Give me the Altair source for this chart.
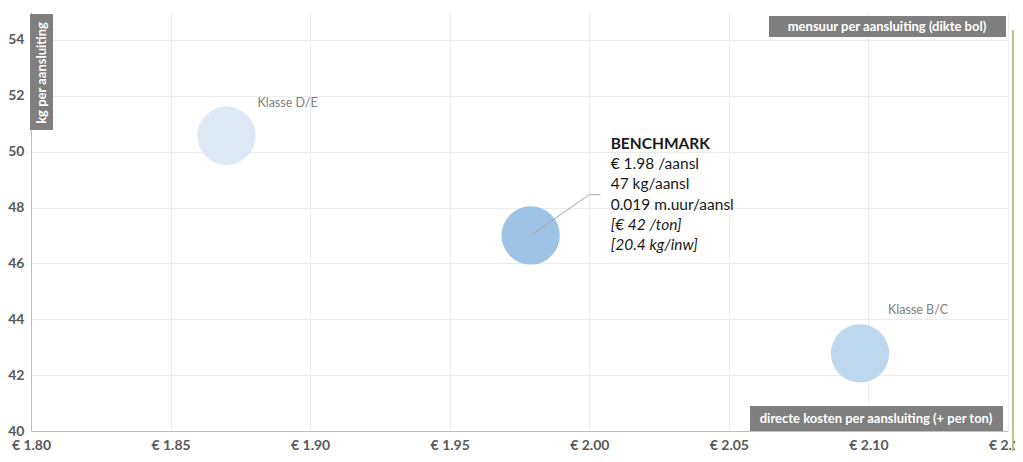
import altair as alt
import pandas as pd

# ---- data ----
names = ["Klasse D/E", "BENCHMARK", "Klasse B/C"]
cost = [1.870, 1.979, 2.097]          # € per aansluiting
kg = [50.57, 47.0, 42.78]             # kg per aansluiting
colors = ["#dde9f5", "#9dc3e6", "#bdd7ee"]

bench_lines = ["BENCHMARK", "€ 1.98 /aansl", "47 kg/aansl",
               "0.019 m.uur/aansl", "[€ 42 /ton]", "[20.4 kg/inw]"]

leader_x = [1.979, 2.000, 2.004]
leader_y = [47.0, 48.46, 48.46]

x_ticks = [1.80, 1.85, 1.90, 1.95, 2.00, 2.05, 2.10, 2.15]
y_ticks = [40, 42, 44, 46, 48, 50, 52, 54]

FONT = "Lato"

df = pd.DataFrame({"name": names, "cost": cost, "kg": kg})
lead = pd.DataFrame({"x": leader_x, "y": leader_y, "o": list(range(len(leader_x)))})
one = pd.DataFrame({"a": [0]})

xs = alt.Scale(domain=[1.80, 2.15], nice=False, zero=False)
ys = alt.Scale(domain=[40, 55], nice=False, zero=False)

xaxis = alt.Axis(values=x_ticks, labelExpr="'€ ' + format(datum.value, '.2f')",
                 title=None, tickSize=0, labelPadding=7, labelFont=FONT,
                 labelFontSize=14, labelFontWeight="bold", labelColor="#595959",
                 domainColor="#bfbfbf", gridColor="#ececec", labelFlush=False,
                 labelOverlap=False)
yaxis = alt.Axis(values=y_ticks, title=None, tickSize=0, labelPadding=7,
                 labelFont=FONT, labelFontSize=14, labelFontWeight="bold",
                 labelColor="#595959", domainColor="#bfbfbf", gridColor="#ececec")

bubbles = alt.Chart(df).mark_circle(opacity=1, size=3400).encode(
    x=alt.X("cost:Q", scale=xs, axis=xaxis),
    y=alt.Y("kg:Q", scale=ys, axis=yaxis),
    color=alt.Color("name:N", scale=alt.Scale(domain=names, range=colors), legend=None),
)

leader = alt.Chart(lead).mark_line(color="#a6a6a6", strokeWidth=1).encode(
    x=alt.X("x:Q", scale=xs), y=alt.Y("y:Q", scale=ys), order="o:Q")

lab_de = alt.Chart(df[df.name == "Klasse D/E"]).mark_text(
    align="left", baseline="middle", dx=31, dy=-33, font=FONT, fontSize=12.5,
    color="#808080").encode(x=alt.X("cost:Q", scale=xs), y=alt.Y("kg:Q", scale=ys), text="name:N")
lab_bc = alt.Chart(df[df.name == "Klasse B/C"]).mark_text(
    align="left", baseline="middle", dx=28, dy=-43, font=FONT, fontSize=12.5,
    color="#808080").encode(x=alt.X("cost:Q", scale=xs), y=alt.Y("kg:Q", scale=ys), text="name:N")

bdf = df[df.name == "BENCHMARK"]
dys = [-91, -71, -51, -30, -10, 10]
bench_text = []
for i, line in enumerate(bench_lines):
    kw = {}
    if i == 0:
        kw["fontWeight"] = "bold"
    if i >= 4:
        kw["fontStyle"] = "italic"
    bench_text.append(
        alt.Chart(bdf).mark_text(align="left", baseline="middle", dx=80, dy=dys[i],
                                 font=FONT, fontSize=15.5, color="#1a1a1a", **kw)
        .encode(x=alt.X("cost:Q", scale=xs), y=alt.Y("kg:Q", scale=ys), text=alt.value(line)))

# decorative label boxes
box_top = alt.Chart(one).mark_rect(color="#7f7f7f").encode(
    x=alt.value(738), x2=alt.value(975), y=alt.value(4), y2=alt.value(25))
txt_top = alt.Chart(one).mark_text(color="white", font=FONT, fontSize=13, fontWeight="bold",
                                   align="center", baseline="middle").encode(
    x=alt.value(856), y=alt.value(15), text=alt.value("mensuur per aansluiting  (dikte  bol)"))
box_bot = alt.Chart(one).mark_rect(color="#7f7f7f").encode(
    x=alt.value(719), x2=alt.value(972), y=alt.value(394), y2=alt.value(419))
txt_bot = alt.Chart(one).mark_text(color="white", font=FONT, fontSize=13, fontWeight="bold",
                                   align="center", baseline="middle").encode(
    x=alt.value(845), y=alt.value(407), text=alt.value("directe kosten per aansluiting (+ per ton)"))
box_y = alt.Chart(one).mark_rect(color="#7f7f7f").encode(
    x=alt.value(-1), x2=alt.value(22), y=alt.value(2), y2=alt.value(118))
txt_y = alt.Chart(one).mark_text(color="white", font=FONT, fontSize=13, fontWeight="bold",
                                 angle=270, align="center", baseline="middle").encode(
    x=alt.value(11), y=alt.value(61), text=alt.value("kg per aansluiting"))
green = alt.Chart(one).mark_rule(color="#9bbb59", strokeWidth=1.5).encode(
    x=alt.value(982), y=alt.value(18), y2=alt.value(445))

chart = alt.layer(bubbles, leader, lab_de, lab_bc, *bench_text,
                  box_top, txt_top, box_bot, txt_bot, box_y, txt_y, green).properties(
    width=977, height=419,
    autosize=alt.AutoSizeParams(type="none"),
    padding={"left": 23, "top": 4, "right": 7, "bottom": 20},
    background="white",
).configure_view(stroke=None)

chart.save("out.html", embed_options={"renderer": "svg", "actions": False})
